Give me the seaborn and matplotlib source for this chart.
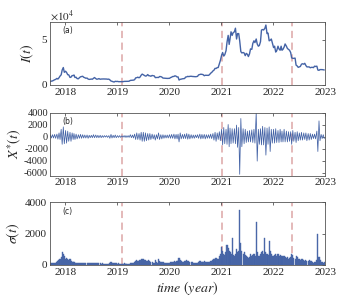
import numpy as np
import pandas as pd
import matplotlib
matplotlib.use("Agg")
import matplotlib.pyplot as plt
import matplotlib.dates as mdates
import seaborn as sns

# ------------------------------------------------------------------
# data (4 readings per month, Sep 2017 - Dec 2022)
# ------------------------------------------------------------------
price_k = [
    4.6, 4.0, 3.7, 4.2,  4.4, 5.0, 5.7, 6.1,  7.2, 6.5, 8.0, 9.8,  11.2, 16.5, 19.3, 14.0,
    15.2, 13.8, 11.3, 11.2,  8.3, 8.6, 10.4, 10.3,  11.0, 8.2, 8.5, 7.0,  6.8, 8.0, 9.0, 9.3,
    9.6, 8.5, 8.0, 7.4,  7.6, 6.5, 6.1, 6.3,  6.5, 6.3, 7.4, 8.2,  7.0, 6.3, 6.5, 7.0,
    6.3, 6.5, 6.6, 6.6,  6.6, 6.5, 6.5, 6.3,  6.4, 5.6, 4.3, 4.0,  3.5, 3.2, 4.0, 3.8,
    3.9, 3.6, 3.6, 3.5,  3.5, 3.6, 3.9, 3.9,  3.9, 4.0, 4.0, 4.1,  5.0, 5.1, 5.3, 5.3,
    5.8, 7.8, 8.0, 8.6,  7.9, 8.7, 10.8, 12.0,  11.2, 10.4, 9.8, 10.0,  11.5, 10.2, 10.1, 9.6,
    10.5, 10.2, 10.0, 8.1,  8.2, 8.3, 8.2, 9.3,  9.2, 8.7, 7.6, 7.5,  7.4, 7.2, 7.2, 7.2,
    7.3, 8.1, 8.6, 9.3,  9.4, 10.1, 9.7, 8.8,  8.9, 5.4, 6.2, 6.4,  6.8, 6.9, 7.1, 8.7,
    8.9, 9.5, 9.2, 9.5,  9.6, 9.4, 9.3, 9.1,  9.1, 9.2, 9.5, 11.1,  11.6, 11.9, 11.7, 11.5,
    10.2, 10.7, 10.7, 10.8,  10.6, 11.4, 13.0, 13.8,  15.5, 16.3, 18.4, 18.2,  19.2, 19.3, 23.5, 27.0,
    33.0, 36.0, 32.0, 33.5,  38.0, 47.5, 55.0, 45.0,  51.0, 59.0, 55.0, 58.0,  59.0, 63.0, 51.0, 57.0,
    57.0, 49.0, 37.0, 35.5,  36.0, 35.5, 32.5, 35.0,  34.0, 31.5, 34.5, 40.0,  39.5, 46.0, 49.0, 47.0,
    51.0, 45.5, 43.0, 43.8,  48.0, 61.0, 61.5, 61.0,  63.0, 66.5, 57.0, 57.5,  49.0, 49.5, 51.0, 47.0,
    41.5, 43.0, 36.5, 38.0,  43.0, 40.0, 38.5, 43.0,  38.5, 39.5, 42.0, 45.5,  43.0, 40.5, 39.5, 38.5,
    36.0, 30.0, 29.5, 29.5,  29.8, 22.0, 21.0, 19.5,  20.0, 20.5, 23.0, 23.5,  23.0, 24.0, 21.5, 20.0,
    20.0, 20.0, 19.0, 19.5,  19.5, 19.2, 20.8, 20.5,  20.8, 16.5, 16.2, 17.0,  17.0, 17.0, 16.8, 16.6,
]

x_star = [
    250, -300, 300, -250,  300, -250, 350, -300,  400, -450, 600, -500,  1200, -1300, 1600, -1200,
    1000, -1100, 900, -800,  700, -800, 600, -500,  500, -500, 400, -400,  300, -300, 350, -300,
    300, -250, 250, -250,  250, -300, 200, -200,  200, -200, 300, -200,  250, -200, 200, -200,
    200, -200, 150, -150,  150, -100, 150, -150,  150, -300, 350, -250,  200, -200, 250, -200,
    150, -150, 150, -150,  120, -120, 150, -150,  150, -150, 150, -150,  300, -200, 250, -250,
    400, -500, 600, -500,  500, -600, 700, -800,  700, -800, 600, -700,  500, -600, 500, -500,
    400, -400, 300, -600,  300, -400, 600, -500,  300, -400, 300, -300,  250, -250, 250, -250,
    300, -300, 350, -300,  400, -400, 350, -400,  400, -900, 600, -400,  350, -350, 400, -350,
    500, -450, 400, -400,  300, -300, 250, -300,  250, -200, 300, -300,  400, -400, 350, -350,
    350, -400, 300, -300,  300, -300, 400, -350,  500, -600, 700, -800,  600, -500, 800, -700,
    1200, -1400, 1500, -1200,  1200, -1300, 2000, -1700,  1400, -1200, 1300, -1100,  1300, -1200, 1900, -1800,
    1500, -6300, 3000, -1700,  1300, -1200, 1200, -1000,  900, -900, 1000, -900,  1100, -1000, 1200, -1100,
    4000, -4100, 1200, -1300,  1300, -1400, 1700, -1400,  1500, -3100, 1400, -1300,  1600, -2500, 1200, -1100,
    1200, -1100, 1300, -1000,  1000, -1000, 1200, -900,  900, -900, 1200, -900,  900, -900, 800, -800,
    800, -1300, 1000, -800,  700, -1000, 800, -700,  600, -600, 700, -600,  600, -500, 600, -700,
    500, -600, 500, -500,  400, -350, 400, -400,  900, -2500, 2600, -700,  350, -350, 300, -350,
]

sigma = [
    120, 150, 100, 130,  100, 120, 150, 130,  200, 250, 300, 350,  500, 850, 700, 600,
    400, 450, 350, 300,  350, 250, 200, 200,  200, 150, 150, 150,  120, 130, 150, 120,
    120, 100, 100, 110,  100, 120, 90, 100,  90, 100, 120, 110,  100, 90, 100, 90,
    90, 80, 90, 80,  70, 60, 70, 60,  80, 150, 180, 150,  100, 90, 120, 110,
    80, 90, 70, 80,  70, 80, 90, 80,  70, 80, 70, 80,  120, 100, 110, 120,
    200, 250, 300, 280,  250, 300, 350, 400,  350, 300, 300, 280,  250, 300, 250, 200,
    200, 150, 150, 300,  200, 150, 350, 250,  200, 180, 200, 150,  130, 120, 130, 120,
    150, 180, 170, 200,  200, 250, 200, 220,  250, 450, 300, 250,  200, 180, 220, 250,
    300, 250, 220, 200,  180, 200, 150, 150,  130, 120, 150, 200,  250, 220, 200, 200,
    250, 200, 180, 170,  160, 180, 220, 250,  300, 350, 400, 450,  350, 400, 550, 700,
    1150, 900, 700, 650,  800, 1300, 1100, 900,  800, 700, 1750, 650,  600, 700, 1000, 800,
    900, 3550, 1400, 900,  700, 800, 650, 600,  500, 450, 500, 700,  600, 650, 700, 600,
    2750, 800, 600, 550,  700, 800, 900, 700,  1750, 800, 700, 650,  1550, 900, 700, 600,
    600, 650, 700, 600,  700, 600, 650, 550,  500, 550, 600, 500,  450, 500, 400, 450,
    500, 700, 650, 450,  400, 600, 500, 400,  350, 300, 400, 350,  300, 280, 300, 250,
    250, 300, 280, 250,  200, 150, 180, 200,  300, 1950, 500, 300,  200, 180, 150, 170,
]

event_dates = ["2019-02-06", "2021-01-03", "2022-05-09"]

months = pd.date_range("2017-09-01", "2022-12-01", freq="MS")
dates = [m + pd.Timedelta(days=d) for m in months for d in (2, 9, 17, 24)]

df = pd.DataFrame({"date": dates, "I": np.array(price_k) * 1000,
                   "X": x_star, "sigma": sigma})

# ------------------------------------------------------------------
# style
# ------------------------------------------------------------------
sns.set_theme(style="white")
plt.rcParams["font.family"] = ["Liberation Serif", "DejaVu Serif"]
plt.rcParams["mathtext.fontset"] = "stix"
plt.rcParams["axes.unicode_minus"] = False

blue = "#4463a6"
dash_col = "#e2b3b3"

fig = plt.figure(figsize=(3.6, 3.0), dpi=100)
ax_a = fig.add_axes([0.1375, 0.717, 0.766, 0.21])
ax_b = fig.add_axes([0.1375, 0.415, 0.766, 0.21])
ax_c = fig.add_axes([0.1375, 0.117, 0.766, 0.208])

sns.lineplot(data=df, x="date", y="I", ax=ax_a, color=blue, linewidth=1.0)
sns.lineplot(data=df, x="date", y="X", ax=ax_b, color=blue, linewidth=0.55)
ax_c.bar(df["date"], df["sigma"], width=8, color=blue, edgecolor=blue,
         linewidth=0.3, alpha=0.95)

xmin, xmax = pd.Timestamp("2017-09-12"), pd.Timestamp("2023-01-01")
for ax, lab in zip([ax_a, ax_b, ax_c], ["(a)", "(b)", "(c)"]):
    for d in event_dates:
        ax.axvline(pd.Timestamp(d), color=dash_col, linestyle=(0, (4, 2.5)),
                   linewidth=1.3, zorder=0)
    ax.set_xlim(xmin, xmax)
    ax.xaxis.set_major_locator(mdates.YearLocator())
    ax.xaxis.set_major_formatter(mdates.DateFormatter("%Y"))
    ax.set_xlabel("")
    ax.tick_params(direction="in", top=True, right=True, length=2.5, width=0.6,
                   color="#555555", labelsize=8, pad=2)
    for s in ax.spines.values():
        s.set_color("#555555")
        s.set_linewidth(0.6)
    ax.text(0.045, 0.82, lab, transform=ax.transAxes, fontsize=5.5, family="DejaVu Sans")

ax_a.set_ylim(0, 70000)
ax_a.set_yticks([0, 50000])
ax_a.set_yticklabels(["0", "5"])
ax_a.text(0.0, 1.03, r"$\times10^4$", transform=ax_a.transAxes, fontsize=8)
ax_a.set_ylabel(r"$I(t)$", fontsize=10, labelpad=4)

ax_b.set_ylim(-6500, 4000)
ax_b.set_yticks([4000, 2000, 0, -2000, -4000, -6000])
ax_b.tick_params(axis="y", labelsize=7.5, pad=1)
ax_b.set_ylabel(r"$X^{*}(t)$", fontsize=10, labelpad=0)

ax_c.set_ylim(0, 4000)
ax_c.set_yticks([0, 2000, 4000])
ax_c.set_ylabel(r"$\sigma(t)$", fontsize=10, labelpad=2)
ax_c.set_xlabel(r"$time\ (year)$", fontsize=10, labelpad=2)

fig.savefig("out.png", dpi=100)
